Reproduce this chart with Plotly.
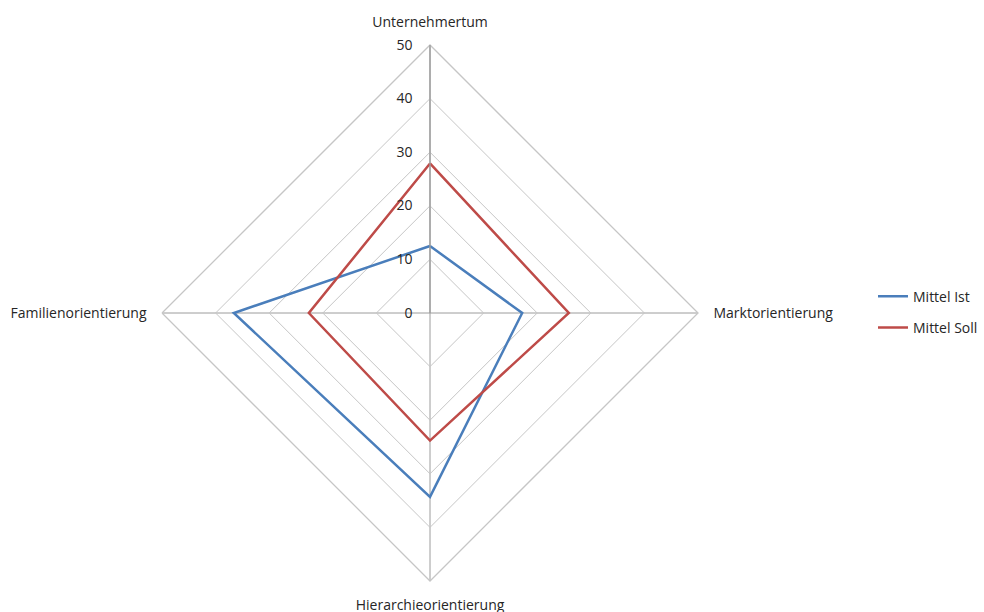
import plotly.graph_objects as go

categories = ["Unternehmertum", "Marktorientierung", "Hierarchieorientierung", "Familienorientierung"]
ist_values = [12.5, 17.2, 34.3, 36.6]
soll_values = [27.9, 25.9, 23.8, 22.6]
radial_ticks = [0, 10, 20, 30, 40, 50]

FONT = "Open Sans"
TEXT = "#262626"

fig = go.Figure()
fig.add_trace(go.Scatterpolar(
    r=ist_values + ist_values[:1], theta=categories + categories[:1],
    mode="lines", name="Mittel Ist", line=dict(color="#4A7EBB", width=2.5),
    legendgroup="a"))
fig.add_trace(go.Scatterpolar(
    r=soll_values + soll_values[:1], theta=categories + categories[:1],
    mode="lines", name="Mittel Soll", line=dict(color="#BE4B48", width=2.5),
    legendgroup="b"))

fig.update_layout(
    width=984, height=612,
    margin=dict(l=0, r=0, t=0, b=0),
    paper_bgcolor="white", plot_bgcolor="white",
    font=dict(family=FONT, size=14, color=TEXT),
    polar=dict(
        domain=dict(x=[162/984, 698/984], y=[(612-581)/612, (612-45)/612]),
        gridshape="linear",
        bgcolor="white",
        radialaxis=dict(
            range=[0, 50], tickvals=radial_ticks, angle=90, side="counterclockwise",
            showline=True, linecolor="#9C9C9C", linewidth=1.3,
            gridcolor="#C6C6C6", gridwidth=1.3,
            ticks="outside", ticklen=12, tickcolor="rgba(0,0,0,0)", tickangle=90,
            tickfont=dict(family=FONT, size=14, color=TEXT),
        ),
        angularaxis=dict(
            categoryorder="array", categoryarray=categories,
            rotation=90, direction="clockwise",
            showline=True, linecolor="#C6C6C6", linewidth=1.3,
            gridcolor="#9C9C9C", gridwidth=1.3,
            ticks="outside", ticklen=12, tickcolor="rgba(0,0,0,0)",
            tickfont=dict(family=FONT, size=14, color=TEXT),
        ),
    ),
    legend=dict(x=873/984, xanchor="left", y=0.49, yanchor="middle",
                font=dict(family=FONT, size=14, color=TEXT),
                tracegroupgap=10, bgcolor="rgba(0,0,0,0)"),
)

fig.write_html("out.html")
